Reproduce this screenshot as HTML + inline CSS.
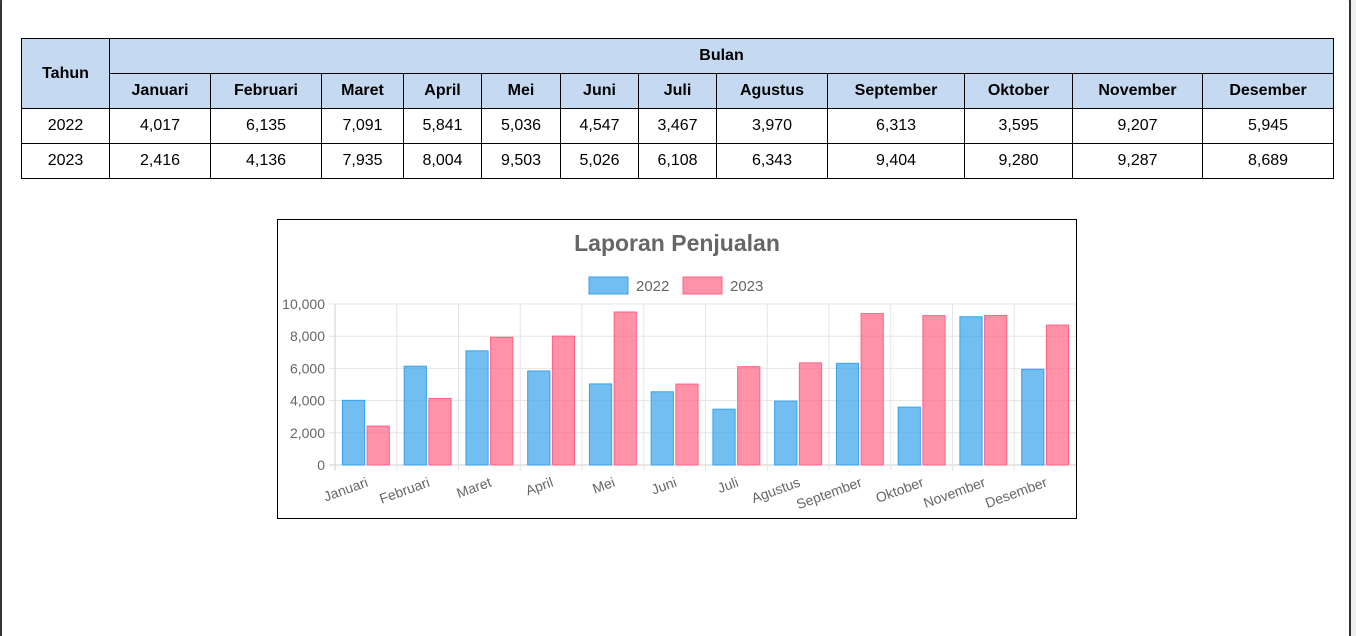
<!DOCTYPE html>
<html style="height:636px;overflow:hidden"><head><meta charset="utf-8"><style>
body{margin:0;width:1356px;height:636px;background:#eeeeee;position:relative;overflow:hidden;font-family:"Liberation Sans",Arial,sans-serif}
#panel{position:absolute;left:0;top:-10px;width:1347px;height:648px;background:#fff;border:2px solid #333;border-bottom:none;border-radius:12px 12px 0 0}
table{position:absolute;left:21px;top:38px;border-collapse:collapse;font-size:16px}
td,th{border:1px solid #000;text-align:center;padding:0;height:34px}
th{background:#c5d9f1;font-weight:bold}
#chartbox{position:absolute;left:277px;top:219px;width:798px;height:298px;border:1px solid #000;background:#fff}
</style></head><body>
<div id="panel"></div>
<table>
<colgroup><col style="width:88px"><col style="width:101px"><col style="width:111px"><col style="width:82px"><col style="width:78px"><col style="width:79px"><col style="width:78px"><col style="width:78px"><col style="width:111px"><col style="width:137px"><col style="width:108px"><col style="width:130px"><col style="width:131px"></colgroup>
<tr><th rowspan="2">Tahun</th><th colspan="12">Bulan</th></tr>
<tr><th>Januari</th><th>Februari</th><th>Maret</th><th>April</th><th>Mei</th><th>Juni</th><th>Juli</th><th>Agustus</th><th>September</th><th>Oktober</th><th>November</th><th>Desember</th></tr>
<tr><td>2022</td><td>4,017</td><td>6,135</td><td>7,091</td><td>5,841</td><td>5,036</td><td>4,547</td><td>3,467</td><td>3,970</td><td>6,313</td><td>3,595</td><td>9,207</td><td>5,945</td></tr>
<tr><td>2023</td><td>2,416</td><td>4,136</td><td>7,935</td><td>8,004</td><td>9,503</td><td>5,026</td><td>6,108</td><td>6,343</td><td>9,404</td><td>9,280</td><td>9,287</td><td>8,689</td></tr>
</table>
<div id="chartbox">
<svg id="svg" width="798" height="298" xmlns="http://www.w3.org/2000/svg" font-family="Liberation Sans, Arial, sans-serif"></svg>
</div>
<script>
const categories=["Januari","Februari","Maret","April","Mei","Juni","Juli","Agustus","September","Oktober","November","Desember"];
const series2022=[4017,6135,7091,5841,5036,4547,3467,3970,6313,3595,9207,5945];
const series2023=[2416,4136,7935,8004,9503,5026,6108,6343,9404,9280,9287,8689];
const yTicks=[0,2000,4000,6000,8000,10000];
const yTickLabels=["0","2,000","4,000","6,000","8,000","10,000"];
const svg=document.getElementById('svg');
const NS='http://www.w3.org/2000/svg';
const L=57,R=798,T=84,B=245,yMax=10000;
const cw=(R-L)/categories.length;
const y=v=>B-(v/yMax)*(B-T);
const x=i=>L+i*cw;
function mk(tag,attrs,text){const e=document.createElementNS(NS,tag);for(const k in attrs)e.setAttribute(k,attrs[k]);if(text!==undefined)e.textContent=text;svg.appendChild(e);return e;}
let t=mk('text',{x:399,y:31,'text-anchor':'middle','font-size':23,'font-weight':'bold',fill:'#666'},'Laporan Penjualan');


const leg=[["2022","rgba(54,162,235,0.7)","rgb(54,162,235)",310],["2023","rgba(255,99,132,0.7)","rgb(255,99,132)",404]];
leg.forEach(l=>{
 let r=mk('rect',{x:l[3]+1,y:57,width:39,height:17,fill:l[1],stroke:l[2],'stroke-width':1});
 
 
 let tx=mk('text',{x:l[3]+48,y:71,'font-size':15,fill:'#666'},l[0]);
 
 
});
yTicks.forEach((v,i)=>{
 let g=mk('line',{x1:L-6,x2:R,y1:y(v),y2:y(v),stroke:i==0?'#ccc':'#e5e5e5','stroke-width':1});
 
 
 let tl=mk('text',{x:L-10,y:y(v)+5,'text-anchor':'end','font-size':14,fill:'#666'},yTickLabels[i]);
 
 
});
for(let i=0;i<=categories.length;i++){
 let g=mk('line',{x1:x(i),x2:x(i),y1:T,y2:B+6,stroke:i==0?'#ccc':'#e5e5e5','stroke-width':1});
 
 
}
const slot=cw*0.8/2, bw=slot*0.9;
categories.forEach((c,i)=>{
 const s0=x(i)+cw*0.1;
 [[series2022,"rgba(54,162,235,0.7)","rgb(54,162,235)","2022"],[series2023,"rgba(255,99,132,0.7)","rgb(255,99,132)","2023"]].forEach((s,j)=>{
  const bx=s0+j*slot+(slot-bw)/2;
  let r=mk('rect',{x:bx,y:y(s[0][i]),width:bw,height:B-y(s[0][i]),fill:s[1],stroke:s[2],'stroke-width':1});
  
  
 });
 const cx=x(i)+cw/2+3;
 let lb=mk('text',{x:cx,y:B+21,'text-anchor':'end','font-size':14,fill:'#666',transform:`rotate(-20 ${cx} ${B+21})`},c);
 
 
});
</script>
</body></html>
